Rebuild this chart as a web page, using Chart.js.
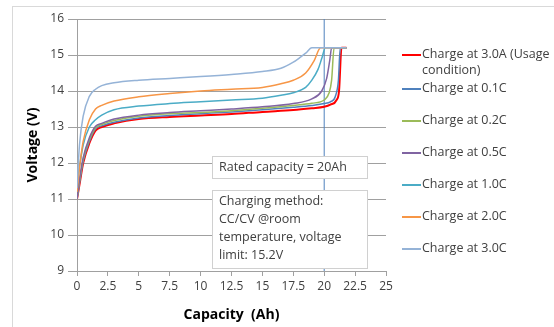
<!DOCTYPE html>
<html lang="en">
<head>
  <meta charset="UTF-8">
  <title>Charge curves</title>
  <script src="https://cdn.jsdelivr.net/npm/chart.js"></script>
  <style>
    body { margin: 0; background: #fff; }
    #wrap { position: relative; width: 554px; height: 327px; overflow: hidden; }
    #frame { position: absolute; left: 12px; top: 6px; right: -2px; bottom: -2px; border-top: 1px solid #d9d9d9; border-left: 1px solid #d9d9d9; }
    #legend { position: absolute; left: 402px; top: 46px; font: 12.5px "Open Sans", sans-serif; color: #404040; white-space: nowrap; }
    #legend div { position: absolute; left: 0; }
    #legend span.sw { display: inline-block; width: 19px; height: 0; border-top: 2px solid; vertical-align: middle; margin-right: 1px; }
    #legend span.t { display: inline-block; vertical-align: top; line-height: 16px; }
  </style>
</head>
<body>
<div id="wrap">
  <div id="frame"></div>
  <canvas id="chart" width="554" height="327"></canvas>
  <div id="legend"></div>
</div>
<script>
  // capacity (Ah) / voltage (V)
  const redX = [0, 0.25, 0.5, 1, 1.5, 2, 3, 5, 7.5, 10, 12.5, 15, 17.5, 19, 20, 20.5, 21, 21.2, 21.4, 21.8];
  const redV = [11.0, 11.5, 12.0, 12.55, 12.9, 13.0, 13.1, 13.22, 13.28, 13.32, 13.36, 13.42, 13.47, 13.52, 13.56, 13.62, 13.75, 14.0, 15.2, 15.2];

  const c01X = [0, 0.25, 0.5, 1, 1.5, 2, 3, 5, 7.5, 10, 12.5, 15, 17.5, 19, 20, 20.5, 20.9, 21.15, 21.3, 21.8];
  const c01V = [11.0, 11.55, 12.05, 12.6, 12.95, 13.03, 13.13, 13.25, 13.32, 13.37, 13.42, 13.48, 13.55, 13.6, 13.65, 13.7, 13.85, 14.3, 15.2, 15.2];

  const c02X = [0, 0.25, 0.5, 1, 1.5, 2, 3, 5, 7.5, 10, 12.5, 15, 17.5, 19, 20, 20.4, 20.6, 20.8, 21.8];
  const c02V = [11.0, 11.6, 12.1, 12.65, 12.98, 13.07, 13.18, 13.3, 13.37, 13.4, 13.45, 13.52, 13.6, 13.66, 13.75, 13.95, 14.3, 15.2, 15.2];

  const c05X = [0, 0.25, 0.5, 1, 1.5, 2, 3, 5, 7.5, 10, 12.5, 15, 17.5, 19, 19.8, 20.2, 20.45, 20.6, 21.8];
  const c05V = [11.0, 11.65, 12.15, 12.7, 13.02, 13.1, 13.22, 13.33, 13.4, 13.45, 13.5, 13.56, 13.65, 13.78, 14.0, 14.35, 14.85, 15.2, 15.2];

  const c10X = [0, 0.25, 0.5, 1, 1.5, 2, 3, 5, 7.5, 10, 12.5, 15, 16.5, 17.5, 18.5, 19, 19.5, 19.8, 20.1, 21.8];
  const c10V = [11.4, 12.0, 12.5, 13.0, 13.2, 13.33, 13.48, 13.58, 13.65, 13.7, 13.75, 13.8, 13.88, 13.95, 14.1, 14.3, 14.6, 14.9, 15.2, 15.2];

  const c20X = [0, 0.25, 0.5, 1, 1.5, 2, 3, 5, 7.5, 10, 12.5, 15, 16.5, 17.5, 18.5, 19.2, 19.7, 21.8];
  const c20V = [11.2, 12.0, 12.6, 13.2, 13.5, 13.6, 13.72, 13.84, 13.93, 14.0, 14.05, 14.1, 14.2, 14.3, 14.5, 14.85, 15.2, 15.2];

  const c30X = [0, 0.2, 0.5, 1, 1.5, 2, 3, 5, 7.5, 10, 12.5, 15, 16.5, 17.5, 18, 18.5, 19, 21.8];
  const c30V = [11.3, 12.5, 13.3, 13.85, 14.05, 14.15, 14.23, 14.3, 14.35, 14.4, 14.46, 14.54, 14.63, 14.8, 14.92, 15.05, 15.2, 15.2];

  const ratedX = [20, 20];
  const ratedV = [9, 16];

  const labels = ['Charge at 3.0A (Usage condition)', 'Charge at 0.1C', 'Charge at 0.2C', 'Charge at 0.5C',
                  'Charge at 1.0C', 'Charge at 2.0C', 'Charge at 3.0C'];
  const colors = ['#ff0000', '#4f81bd', '#9bbb59', '#8064a2', '#4bacc6', '#f79646', '#95b3d7'];
  const xTicks = [0, 2.5, 5, 7.5, 10, 12.5, 15, 17.5, 20, 22.5, 25];

  const seriesX = [redX, c01X, c02X, c05X, c10X, c20X, c30X];
  const seriesV = [redV, c01V, c02V, c05V, c10V, c20V, c30V];

  function pts(xs, vs) {
    return xs.map((x, i) => ({ x: x, y: vs[i] }));
  }

  // draw order: red on top, like the original
  const datasets = [];
  for (let i = 6; i >= 0; i--) {
    datasets.push({
      label: labels[i],
      data: pts(seriesX[i], seriesV[i]),
      borderColor: colors[i],
      borderWidth: i === 0 ? 2 : 1.5,
      pointRadius: 0,
      fill: false,
      cubicInterpolationMode: 'monotone'
    });
  }
  datasets.push({
    label: 'rated',
    data: pts(ratedX, ratedV),
    borderColor: '#4f81bd',
    borderWidth: 1,
    pointRadius: 0,
    fill: false
  });

  const font = { family: '"Open Sans", sans-serif', size: 12 };
  const titleFont = { family: '"Open Sans", sans-serif', size: 14, weight: 'bold' };

  // text boxes inside the plot
  const boxes = {
    id: 'boxes',
    afterDatasetsDraw(chart) {
      const ctx = chart.ctx;
      const drawBox = (x, y, w, h, lines) => {
        ctx.save();
        ctx.fillStyle = '#fff';
        ctx.fillRect(x, y, w, h);
        ctx.strokeStyle = '#d0d0d0';
        ctx.lineWidth = 1;
        ctx.strokeRect(x + 0.5, y + 0.5, w, h);
        ctx.fillStyle = '#404040';
        ctx.font = '12.5px "Open Sans", sans-serif';
        ctx.textBaseline = 'middle';
        lines.forEach((t, i) => ctx.fillText(t, x + 7, y + 11 + i * 18));
        ctx.restore();
      };
      drawBox(212, 156, 155, 22, ['Rated capacity = 20Ah']);
      drawBox(212, 190, 155, 78, ['Charging method:', 'CC/CV @room', 'temperature, voltage', 'limit: 15.2V']);
    }
  };

  new Chart(document.getElementById('chart'), {
    type: 'line',
    data: { datasets: datasets },
    options: {
      responsive: false,
      animation: false,
      layout: { padding: { top: 19, right: 168, left: 25, bottom: 0 } },
      plugins: { legend: { display: false }, tooltip: { enabled: false } },
      scales: {
        x: {
          type: 'linear',
          min: 0, max: 25,
          afterBuildTicks: s => { s.ticks = xTicks.map(v => ({ value: v })); },
          afterFit: s => { s.height = 56; },
          grid: { drawOnChartArea: false, color: '#a0a0a0', tickLength: 5 },
          border: { color: '#a0a0a0' },
          ticks: { color: '#404040', font: font, padding: 3, maxRotation: 0 },
          title: { display: true, text: 'Capacity  (Ah)', color: '#000', font: titleFont, padding: { top: 0 } }
        },
        y: {
          min: 9, max: 16,
          ticks: { stepSize: 1, color: '#404040', font: font, padding: 4 },
          afterFit: s => { s.width = 52; },
          grid: { color: '#a0a0a0', tickLength: 9 },
          border: { color: '#a0a0a0' },
          title: { display: true, text: 'Voltage (V)', color: '#000', font: titleFont, padding: 0 }
        }
      }
    },
    plugins: [boxes]
  });

  // legend at the right
  const legTop = [0, 34, 66, 98, 130, 162, 194];
  const leg = document.getElementById('legend');
  labels.forEach((l, i) => {
    const d = document.createElement('div');
    d.style.top = legTop[i] + 'px';
    let txt = l;
    if (i === 0) txt = 'Charge at 3.0A (Usage<br>condition)';
    d.innerHTML = '<span class="sw" style="border-color:' + colors[i] + ';margin-top:8px;vertical-align:top"></span><span class="t">' + txt + '</span>';
    leg.appendChild(d);
  });
</script>
</body>
</html>
